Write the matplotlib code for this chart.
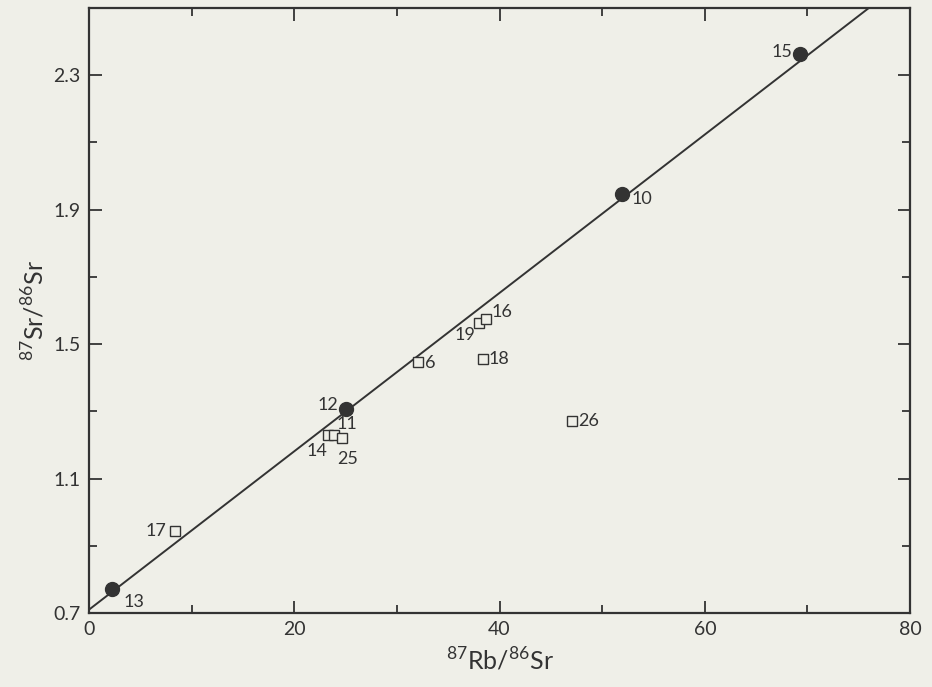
import numpy as np
import matplotlib
matplotlib.use("Agg")
from matplotlib import pyplot as plt
from matplotlib.ticker import FixedLocator

# muestras sobre la isocrona (circulos llenos)
ids_llenos = ["13", "12", "10", "15"]
rb_llenos = [2.24, 25.05, 51.9, 69.3]
sr_llenos = [0.771, 1.307, 1.947, 2.363]

# muestras fuera de la isocrona (cuadrados vacios)
ids_vacios = ["17", "14", "11", "25", "6", "18", "19", "16", "26"]
rb_vacios = [8.38, 23.27, 23.88, 24.63, 32.07, 38.40, 38.01, 38.69, 47.08]
sr_vacios = [0.944, 1.230, 1.230, 1.219, 1.447, 1.456, 1.563, 1.575, 1.271]

# recta de referencia
pendiente = 0.02355
ordenada = 0.71

x_mayores = [0, 20, 40, 60, 80]
x_menores = [10, 30, 50, 70]
y_mayores = [0.7, 1.1, 1.5, 1.9, 2.3]
y_menores = [0.9, 1.3, 1.7, 2.1]

fondo = "#efefe8"
tinta = "#333333"

plt.rcParams['font.family'] = ['Lato', 'DejaVu Sans']
plt.rcParams['mathtext.fontset'] = 'custom'
plt.rcParams['mathtext.rm'] = 'Lato'

fig = plt.figure(figsize=(9.32, 6.87), dpi=100, facecolor=fondo)
ax = fig.add_axes([0.0955, 0.1077, 0.881, 0.881], facecolor=fondo)

xs = np.array([0, 80])
ax.plot(xs, ordenada + pendiente * xs, color=tinta, lw=1.4, zorder=1)

ax.plot(rb_llenos, sr_llenos, 'o', color=tinta, ms=10, zorder=3)
ax.plot(rb_vacios, sr_vacios, 's', mfc=fondo, mec=tinta, mew=1.0, ms=6.5, zorder=3)

# desplazamiento de cada etiqueta (puntos) y alineacion
desp = {
    "13": (8, -9, 'left'), "12": (-6, 3, 'right'), "10": (7, -4, 'left'),
    "15": (-6, 1, 'right'), "17": (-6, 0, 'right'), "14": (0, -12, 'right'),
    "11": (2, 8, 'left'), "25": (-3, -15, 'left'), "6": (5, -1, 'left'),
    "18": (4, 0, 'left'), "19": (-3, -9, 'right'), "16": (4, 5, 'left'),
    "26": (4, 0, 'left'),
}
for nombre, x, y in zip(ids_llenos + ids_vacios, rb_llenos + rb_vacios, sr_llenos + sr_vacios):
    dx, dy, ha = desp[nombre]
    ax.annotate(nombre, (x, y), xytext=(dx, dy), textcoords='offset points',
                ha=ha, va='center', fontsize=13, color=tinta)

ax.set_xlim(0, 80)
ax.set_ylim(0.7, 2.5)
ax.xaxis.set_major_locator(FixedLocator(x_mayores))
ax.xaxis.set_minor_locator(FixedLocator(x_menores))
ax.set_yticks(y_mayores)
ax.set_yticklabels([f"{v:.1f}" for v in y_mayores])
ax.yaxis.set_minor_locator(FixedLocator(y_menores))
ax.tick_params(which='both', direction='in', top=True, right=True, colors=tinta,
               labelsize=14, width=1.3)
ax.tick_params(which='major', length=9, pad=6)
ax.tick_params(which='minor', length=6)
for s in ax.spines.values():
    s.set_color(tinta)
    s.set_linewidth(1.6)

ax.set_xlabel(r'$^{87}$Rb/$^{86}$Sr', fontsize=18, color=tinta, labelpad=6)
ax.set_ylabel(r'$^{87}$Sr/$^{86}$Sr', fontsize=18, color=tinta, labelpad=4)

fig.savefig("out.png", dpi=100, facecolor=fondo)
